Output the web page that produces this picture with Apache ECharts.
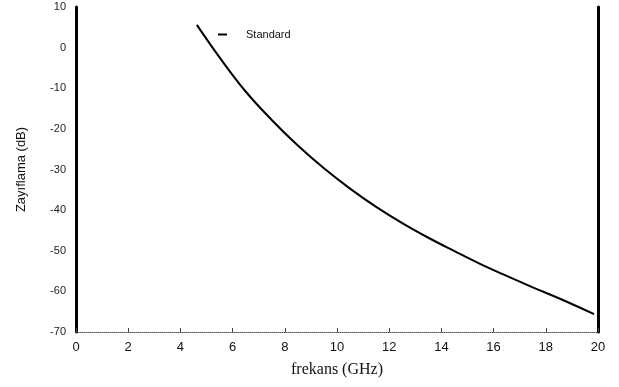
<!DOCTYPE html>
<html>
<head>
<meta charset="utf-8">
<script src="https://cdn.jsdelivr.net/npm/echarts@6/dist/echarts.min.js"></script>
<style>html,body{margin:0;padding:0;background:#fff}#c{width:619px;height:387px}</style>
</head>
<body>
<div id="c"></div>
<script>
var seriesName = 'Standard';
var freqGHz = [4.63, 5.5, 6.5, 7.5, 8.5, 9.5, 10.5, 11.5, 12.5, 13.5, 14.5, 15.5, 16.5, 17.5, 18.5, 19.85];
var levelDb = [5.6, -2.4, -10.8, -17.8, -24.1, -29.7, -34.7, -39.2, -43.2, -46.8, -50.1, -53.3, -56.2, -59.0, -61.7, -65.6];
var xTicks = [0, 2, 4, 6, 8, 10, 12, 14, 16, 18, 20];
var yTicks = [10, 0, -10, -20, -30, -40, -50, -60, -70];
var xTitle = 'frekans (GHz)';
var yTitle = 'Zayıflama (dB)';

var chart = echarts.init(document.getElementById('c'));
var pts = freqGHz.map(function (x, i) { return [x, levelDb[i]]; });
chart.setOption({
  animation: false,
  backgroundColor: '#ffffff',
  grid: { left: 76, right: 21, top: 7, bottom: 55, containLabel: false },
  legend: {
    data: [seriesName], left: 213, top: 24, icon: 'rect', itemWidth: 9, itemHeight: 2,
    textStyle: { fontFamily: 'Liberation Sans', fontSize: 11, color: '#111', padding: [0, 0, 0, 14] }
  },
  xAxis: {
    type: 'value', min: xTicks[0], max: xTicks[xTicks.length - 1], interval: 2,
    name: xTitle, nameLocation: 'middle', nameGap: 30,
    nameTextStyle: { fontFamily: 'Liberation Serif', fontSize: 16, color: '#111' },
    axisLine: { show: true, onZero: false, lineStyle: { color: '#555', width: 1, type: 'dotted' } },
    axisTick: { show: true, inside: true, length: 4, lineStyle: { color: '#444' } },
    axisLabel: { fontFamily: 'Liberation Sans', fontSize: 13, color: '#111', margin: 9 },
    splitLine: { show: false }
  },
  yAxis: [{
    type: 'value', min: yTicks[yTicks.length - 1], max: yTicks[0], interval: 10,
    name: yTitle, nameLocation: 'middle', nameGap: 48,
    nameTextStyle: { fontFamily: 'Liberation Sans', fontSize: 13, color: '#111' },
    axisLine: { show: true, onZero: false, lineStyle: { color: '#000', width: 3 } },
    axisTick: { show: false },
    axisLabel: { fontFamily: 'Liberation Sans', fontSize: 11, color: '#222', margin: 10 },
    splitLine: { show: false }
  }, {
    type: 'value', min: yTicks[yTicks.length - 1], max: yTicks[0], interval: 10, position: 'right',
    axisLine: { show: true, onZero: false, lineStyle: { color: '#000', width: 3 } },
    axisTick: { show: false }, axisLabel: { show: false }, splitLine: { show: false }
  }],
  series: [{
    name: seriesName, type: 'line', data: pts, smooth: 0.4, showSymbol: false,
    lineStyle: { color: '#000', width: 2 }, itemStyle: { color: '#000' }
  }]
});
</script>
</body>
</html>
